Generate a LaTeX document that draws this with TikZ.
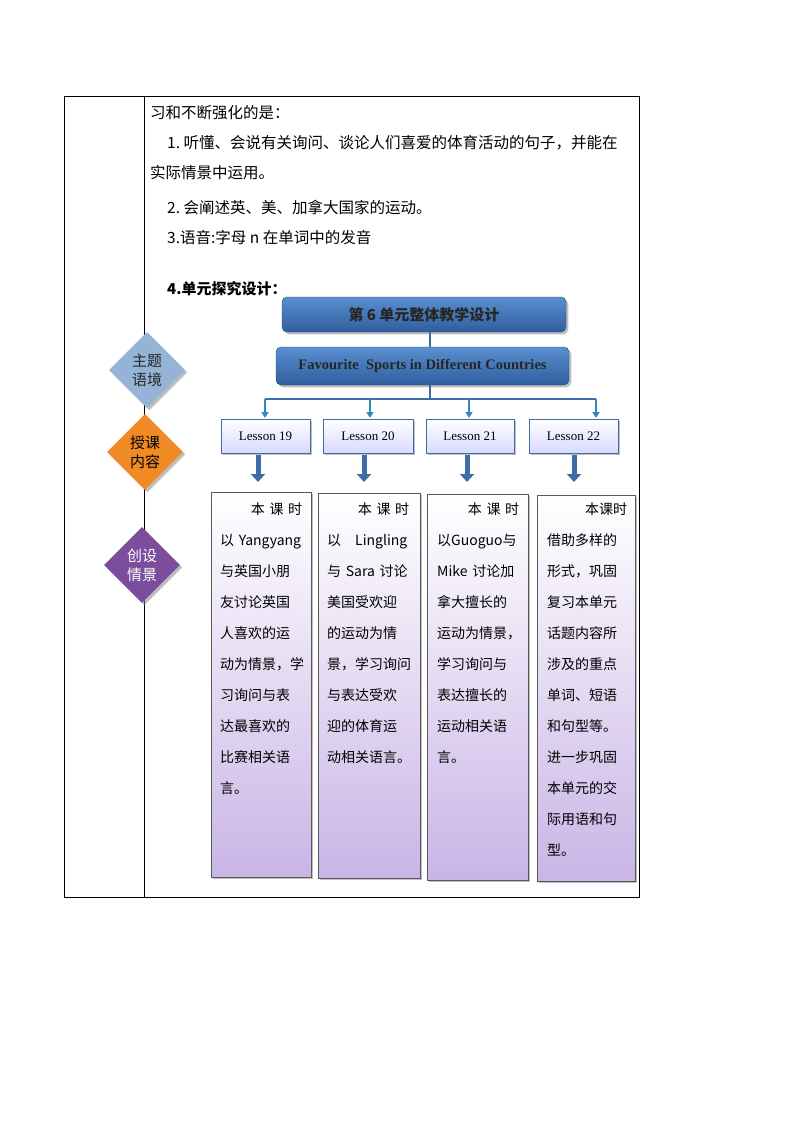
\documentclass[tikz,border=0pt]{standalone}
\usepackage{fontspec}
\setmainfont{Liberation Serif}
\newfontfamily\cjk{Noto Sans CJK SC}
\usetikzlibrary{shapes.geometric,shadows,arrows.meta}
\definecolor{btop}{HTML}{5B8FD0}
\definecolor{bbot}{HTML}{2F5E9E}
\definecolor{steel}{HTML}{3E6CA6}
\definecolor{lav}{HTML}{C9B5E6}
\definecolor{dblue}{HTML}{95B3D7}
\definecolor{dorange}{HTML}{F08A24}
\definecolor{dpurple}{HTML}{7A4E9C}
\begin{document}
\begin{tikzpicture}[x=1pt,y=-1pt,
  line/.style={draw=black,line width=0.6pt},
  txt/.style={anchor=west,inner sep=0pt,font=\cjk\fontsize{15.5}{17}\selectfont},
  bluebox/.style={rounded corners=5pt,draw=bbot!80!black,top color=btop,bottom color=bbot,drop shadow,inner sep=0pt},
  lesson/.style={draw=steel,top color=white,bottom color=blue!15,drop shadow,inner sep=0pt,font=\fontsize{13}{15}\selectfont},
  purple/.style={draw=gray!70!black,top color=white,bottom color=lav,drop shadow,anchor=north west,inner sep=0pt},
  ptext/.style={anchor=north west,inner sep=0pt,text width=82pt,align=left,font=\cjk\fontsize{14}{31}\selectfont},
  dia/.style={diamond,minimum width=76pt,minimum height=76pt,inner sep=0pt,drop shadow,font=\cjk\fontsize{15}{19}\selectfont,align=center},
  conn/.style={draw=steel,line width=2pt},
  thin/.style={-{Triangle[length=6pt,width=7pt]},draw=steel!80!cyan,line width=1.8pt},
  fat/.style={-{Triangle[length=8pt,width=14pt]},draw=steel,line width=5pt}]
\useasboundingbox (0,0) rectangle (794,1123);
\fill[white] (0,0) rectangle (794,1123);
\draw[line] (64,96) rectangle (639,897);
\draw[line] (144,96) -- (144,897);
\node[txt] (t1) at (150,113) {习和不断强化的是：};
\node[txt] (t2) at (167,143) {1.\ 听懂、会说有关询问、谈论人们喜爱的体育活动的句子，并能在};
\node[txt] (t3) at (150,173) {实际情景中运用。};
\node[txt] (t4) at (167,207) {2.\ 会阐述英、美、加拿大国家的运动。};
\node[txt] (t5) at (167,238) {3.语音:字母 n 在单词中的发音};
\node[txt,font=\cjk\bfseries\fontsize{15}{17}\selectfont] (t6) at (167,289) {4.单元探究设计：};
\node[bluebox,minimum width=284pt,minimum height=35pt,font=\cjk\bfseries\fontsize{15}{17}\selectfont,text=black!85] (top) at (424,314.5) {第 6 单元整体教学设计};
\node[bluebox,minimum width=293pt,minimum height=38pt,font=\bfseries\fontsize{14.5}{16}\selectfont,text=black!85] (fav) at (422.5,366) {Favourite\ \ Sports in Different Countries};
\draw[conn] (top.south -| 430,0) -- (fav.north -| 430,0);
\node[lesson,minimum width=89pt,minimum height=34pt] (L1) at (265.5,436) {Lesson 19};
\node[lesson,minimum width=90pt,minimum height=34pt] (L2) at (368,436) {Lesson 20};
\node[lesson,minimum width=88pt,minimum height=34pt] (L3) at (470,436) {Lesson 21};
\node[lesson,minimum width=89pt,minimum height=34pt] (L4) at (573.5,436) {Lesson 22};
\coordinate (hub) at (430,399);
\draw[conn] (fav.south -| hub) -- (hub);
\draw[conn] (265,399) -- (596,399);
\draw[thin] (265,399) -- (265,418);
\draw[thin] (370,399) -- (370,418);
\draw[thin] (469,399) -- (469,418);
\draw[thin] (596,399) -- (596,418);
\coordinate (a1) at (258,482); \coordinate (a2) at (364,482);
\coordinate (a3) at (467,482); \coordinate (a4) at (574,482);
\draw[fat] (258,455) -- (a1);
\draw[fat] (364,455) -- (a2);
\draw[fat] (467,455) -- (a3);
\draw[fat] (574,455) -- (a4);
\draw[purple] (211,492) rectangle (311,877);
\draw[purple] (318,493) rectangle (420,878);
\draw[purple] (427,494) rectangle (528,880);
\draw[purple] (537,495) rectangle (635,881);
\node[ptext] (p1) at (220,503) {\hspace*{\fill}本 课 时\\\mbox{以 Yangyang}\\与英国小朋\\友讨论英国\\人喜欢的运\\\mbox{动为情景，学}\\习询问与表\\达最喜欢的\\比赛相关语\\言。};
\node[ptext] (p2) at (327,503) {\hspace*{\fill}本 课 时\\\mbox{以\ \ \ Lingling}\\\mbox{与 Sara 讨论}\\美国受欢迎\\的运动为情\\\mbox{景，学习询问}\\与表达受欢\\迎的体育运\\\mbox{动相关语言。}};
\node[ptext] (p3) at (437,503) {\hspace*{\fill}本 课 时\\\mbox{以Guoguo与}\\\mbox{Mike 讨论加}\\拿大擅长的\\\mbox{运动为情景，}\\学习询问与\\表达擅长的\\运动相关语\\言。};
\node[ptext,text width=80pt] (p4) at (547,503) {\hspace*{\fill}本课时\\借助多样的\\形式，巩固\\复习本单元\\话题内容所\\涉及的重点\\单词、短语\\和句型等。\\进一步巩固\\本单元的交\\际用语和句\\型。};
\node[dia,fill=dblue,text=black!85] (d1) at (147,370) {主题\\语境};
\node[dia,fill=dorange,text=black] (d2) at (145,452) {授课\\内容};
\node[dia,fill=dpurple,text=white] (d3) at (142,565) {创设\\情景};
\end{tikzpicture}
\end{document}
